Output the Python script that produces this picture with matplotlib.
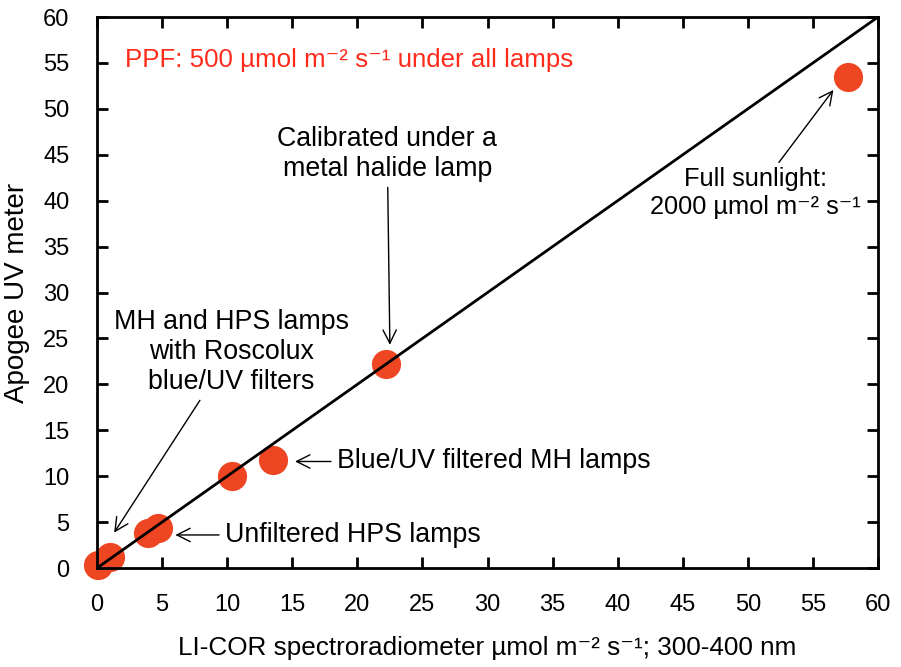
import matplotlib.pyplot as plt

plt.rcParams['font.family'] = ['Liberation Sans', 'DejaVu Sans']

# LI-COR vs Apogee readings
licor = [0.1, 1.0, 3.9, 4.7, 10.4, 13.5, 22.2, 57.7]
apogee = [0.3, 1.2, 3.8, 4.4, 10.0, 11.8, 22.2, 53.5]
line_x = [0, 60]
line_y = [0, 60]
ticks = list(range(0, 61, 5))

fig = plt.figure(figsize=(9.01, 6.67), dpi=100)
ax = fig.add_axes([0.1077, 0.1484, 0.8668, 0.8261])

ax.plot(line_x, line_y, color='black', lw=2, zorder=3)
ax.plot(licor, apogee, 'o', ms=21, color='#EE4522', mec='none', zorder=2, clip_on=False)

ax.set_xlim(0, 60)
ax.set_ylim(0, 60)
ax.set_xticks(ticks)
ax.set_yticks(ticks)
ax.tick_params(direction='in', length=8, width=2, labelsize=17, top=True, right=True)
ax.tick_params(axis='y', pad=20)
ax.tick_params(axis='x', pad=19)
for s in ax.spines.values():
    s.set_linewidth(2)

ax.set_xlabel('LI-COR spectroradiometer µmol m⁻² s⁻¹; 300-400 nm', fontsize=18.8, labelpad=14)
ax.set_ylabel('Apogee UV meter', fontsize=20, labelpad=9)

ax.text(2.15, 55.3, 'PPF: 500 µmol m⁻² s⁻¹ under all lamps', color='#FF2A1A',
        fontsize=18.6, va='center')

fs = 19.3
arr = dict(arrowstyle='->', color='black', lw=1, mutation_scale=24)
ax.annotate('Calibrated under a\nmetal halide lamp', xy=(22.5, 24.0), xytext=(22.3, 45.1),
            ha='center', va='center', fontsize=fs, arrowprops=arr)
ax.annotate('Full sunlight:\n2000 µmol m⁻² s⁻¹', xy=(56.7, 52.3), xytext=(50.6, 40.8),
            ha='center', va='center', fontsize=18.3, arrowprops=arr)
ax.annotate('MH and HPS lamps\nwith Roscolux\nblue/UV filters', xy=(1.2, 3.6), xytext=(10.3, 23.5),
            ha='center', va='center', fontsize=fs, arrowprops=arr)
ax.annotate('Blue/UV filtered MH lamps', xy=(15.0, 11.6), xytext=(18.4, 11.6),
            ha='left', va='center', fontsize=fs, arrowprops=arr)
ax.annotate('Unfiltered HPS lamps', xy=(5.8, 3.6), xytext=(9.8, 3.6),
            ha='left', va='center', fontsize=fs, arrowprops=arr)

fig.savefig('out.png', dpi=100)
